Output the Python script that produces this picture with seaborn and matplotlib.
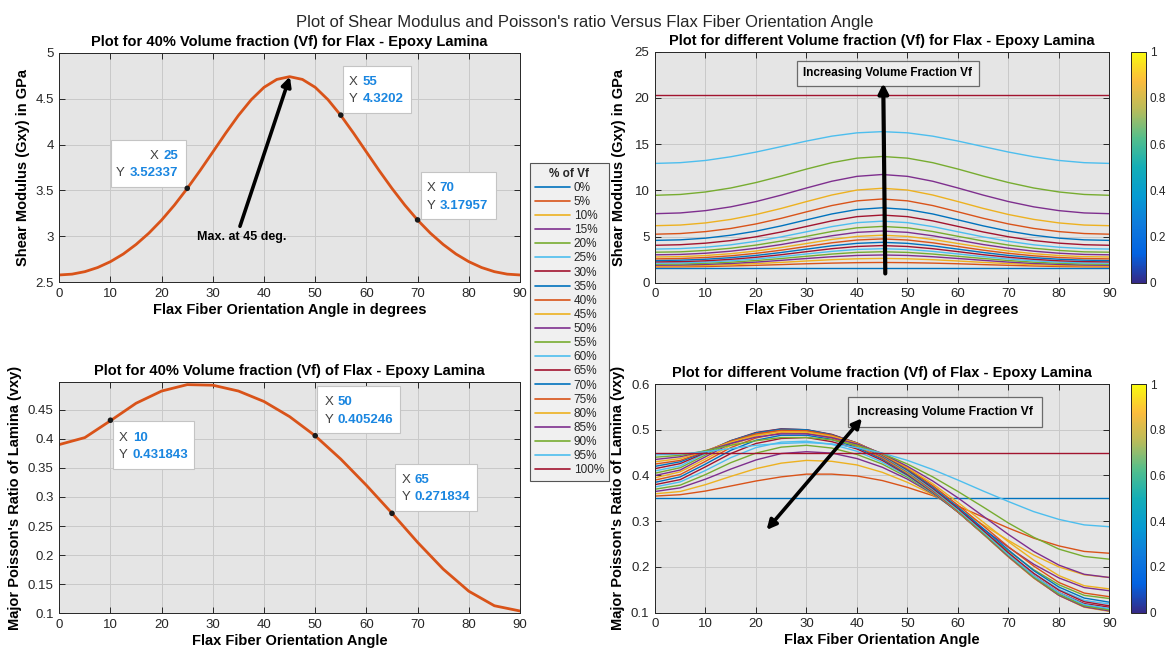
import matplotlib
matplotlib.use("Agg")
import numpy as np
import pandas as pd
import matplotlib.pyplot as plt
import seaborn as sns
from matplotlib.colors import LinearSegmentedColormap, Normalize
from matplotlib.cm import ScalarMappable
from matplotlib.lines import Line2D
from matplotlib.patches import Rectangle
from matplotlib.ticker import FormatStrFormatter, MultipleLocator

# ---------------------------------------------------------------- data
angle = [0, 5, 10, 15, 20, 25, 30, 35, 40, 45, 50, 55, 60, 65, 70, 75, 80, 85, 90]
angle_fine = [0, 2.5, 5, 7.5, 10, 12.5, 15, 17.5, 20, 22.5, 25, 27.5, 30, 32.5, 35, 37.5,
              40, 42.5, 45, 47.5, 50, 52.5, 55, 57.5, 60, 62.5, 65, 67.5, 70, 72.5, 75,
              77.5, 80, 82.5, 85, 87.5, 90]

# 40 % Vf lamina
gxy_40_fine = [2.580, 2.589, 2.616, 2.661, 2.725, 2.808, 2.912, 3.035, 3.178, 3.341, 3.522,
               3.716, 3.919, 4.123, 4.317, 4.488, 4.623, 4.709, 4.739, 4.709, 4.623, 4.488,
               4.317, 4.123, 3.919, 3.716, 3.522, 3.341, 3.178, 3.035, 2.912, 2.808, 2.725,
               2.661, 2.616, 2.589, 2.580]
nuxy_40 = [0.390, 0.402, 0.431, 0.461, 0.482, 0.493, 0.492, 0.482, 0.464, 0.438, 0.405,
           0.365, 0.320, 0.272, 0.222, 0.176, 0.138, 0.113, 0.104]

# data tips
tip_g_x = [25, 55, 70]
tip_g_y = [3.52337, 4.3202, 3.17957]
tip_nu_x = [10, 50, 65]
tip_nu_y = [0.431843, 0.405246, 0.271834]

vf_labels = ['0%', '5%', '10%', '15%', '20%', '25%', '30%', '35%', '40%', '45%', '50%',
             '55%', '60%', '65%', '70%', '75%', '80%', '85%', '90%', '95%', '100%']

# Shear modulus Gxy (GPa) for each volume fraction
gxy_vf00 = [1.63, 1.63, 1.63, 1.63, 1.63, 1.63, 1.63, 1.63, 1.63, 1.63, 1.63, 1.63, 1.63, 1.63, 1.63, 1.63, 1.63, 1.63, 1.63]
gxy_vf05 = [1.71, 1.72, 1.75, 1.81, 1.88, 1.96, 2.05, 2.12, 2.17, 2.19, 2.17, 2.12, 2.05, 1.96, 1.88, 1.81, 1.75, 1.72, 1.71]
gxy_vf10 = [1.80, 1.81, 1.86, 1.95, 2.07, 2.20, 2.35, 2.49, 2.59, 2.63, 2.59, 2.49, 2.35, 2.20, 2.07, 1.95, 1.86, 1.81, 1.80]
gxy_vf15 = [1.89, 1.91, 1.98, 2.08, 2.23, 2.42, 2.62, 2.81, 2.95, 3.00, 2.95, 2.81, 2.62, 2.42, 2.23, 2.08, 1.98, 1.91, 1.89]
gxy_vf20 = [2.00, 2.02, 2.10, 2.22, 2.40, 2.62, 2.86, 3.10, 3.28, 3.35, 3.28, 3.10, 2.86, 2.62, 2.40, 2.22, 2.10, 2.02, 2.00]
gxy_vf25 = [2.12, 2.14, 2.23, 2.37, 2.57, 2.82, 3.11, 3.39, 3.60, 3.68, 3.60, 3.39, 3.11, 2.82, 2.57, 2.37, 2.23, 2.14, 2.12]
gxy_vf30 = [2.25, 2.28, 2.37, 2.53, 2.75, 3.03, 3.36, 3.68, 3.92, 4.02, 3.92, 3.68, 3.36, 3.03, 2.75, 2.53, 2.37, 2.28, 2.25]
gxy_vf35 = [2.40, 2.44, 2.54, 2.71, 2.95, 3.27, 3.63, 3.99, 4.26, 4.37, 4.26, 3.99, 3.63, 3.27, 2.95, 2.71, 2.54, 2.44, 2.40]
gxy_vf40 = [2.58, 2.62, 2.73, 2.91, 3.18, 3.52, 3.92, 4.32, 4.62, 4.74, 4.62, 4.32, 3.92, 3.52, 3.18, 2.91, 2.73, 2.62, 2.58]
gxy_vf45 = [2.78, 2.82, 2.94, 3.14, 3.43, 3.81, 4.24, 4.68, 5.01, 5.14, 5.01, 4.68, 4.24, 3.81, 3.43, 3.14, 2.94, 2.82, 2.78]
gxy_vf50 = [3.02, 3.06, 3.19, 3.41, 3.73, 4.13, 4.61, 5.08, 5.45, 5.59, 5.45, 5.08, 4.61, 4.13, 3.73, 3.41, 3.19, 3.06, 3.02]
gxy_vf55 = [3.30, 3.34, 3.49, 3.73, 4.07, 4.51, 5.02, 5.54, 5.94, 6.09, 5.94, 5.54, 5.02, 4.51, 4.07, 3.73, 3.49, 3.34, 3.30]
gxy_vf60 = [3.64, 3.69, 3.84, 4.10, 4.48, 4.96, 5.51, 6.07, 6.50, 6.66, 6.50, 6.07, 5.51, 4.96, 4.48, 4.10, 3.84, 3.69, 3.64]
gxy_vf65 = [4.05, 4.11, 4.28, 4.56, 4.97, 5.49, 6.09, 6.69, 7.15, 7.32, 7.15, 6.69, 6.09, 5.49, 4.97, 4.56, 4.28, 4.11, 4.05]
gxy_vf70 = [4.58, 4.64, 4.82, 5.14, 5.58, 6.15, 6.80, 7.44, 7.92, 8.11, 7.92, 7.44, 6.80, 6.15, 5.58, 5.14, 4.82, 4.64, 4.58]
gxy_vf75 = [5.25, 5.32, 5.53, 5.87, 6.36, 6.97, 7.67, 8.35, 8.86, 9.06, 8.86, 8.35, 7.67, 6.97, 6.36, 5.87, 5.53, 5.32, 5.25]
gxy_vf80 = [6.17, 6.24, 6.47, 6.85, 7.38, 8.04, 8.78, 9.49, 10.03, 10.22, 10.03, 9.49, 8.78, 8.04, 7.38, 6.85, 6.47, 6.24, 6.17]
gxy_vf85 = [7.47, 7.55, 7.80, 8.21, 8.78, 9.48, 10.25, 10.98, 11.51, 11.71, 11.51, 10.98, 10.25, 9.48, 8.78, 8.21, 7.80, 7.55, 7.47]
gxy_vf90 = [9.46, 9.55, 9.82, 10.25, 10.84, 11.54, 12.30, 12.99, 13.48, 13.66, 13.48, 12.99, 12.30, 11.54, 10.84, 10.25, 9.82, 9.55, 9.46]
gxy_vf95 = [12.91, 12.99, 13.23, 13.63, 14.14, 14.73, 15.33, 15.86, 16.22, 16.35, 16.22, 15.86, 15.33, 14.73, 14.14, 13.63, 13.23, 12.99, 12.91]
gxy_vf100 = [20.3, 20.3, 20.3, 20.3, 20.3, 20.3, 20.3, 20.3, 20.3, 20.3, 20.3, 20.3, 20.3, 20.3, 20.3, 20.3, 20.3, 20.3, 20.3]

# Major Poisson's ratio vxy for each volume fraction
nu_vf00 = [0.35, 0.35, 0.35, 0.35, 0.35, 0.35, 0.35, 0.35, 0.35, 0.35, 0.35, 0.35, 0.35, 0.35, 0.35, 0.35, 0.35, 0.35, 0.35]
nu_vf05 = [0.355, 0.358, 0.366, 0.377, 0.388, 0.397, 0.403, 0.403, 0.399, 0.389, 0.374, 0.356, 0.333, 0.309, 0.285, 0.263, 0.246, 0.234, 0.230]
nu_vf10 = [0.360, 0.365, 0.380, 0.398, 0.415, 0.427, 0.433, 0.431, 0.423, 0.407, 0.385, 0.358, 0.327, 0.292, 0.258, 0.226, 0.200, 0.183, 0.177]
nu_vf15 = [0.365, 0.373, 0.392, 0.414, 0.434, 0.448, 0.452, 0.449, 0.437, 0.418, 0.392, 0.360, 0.323, 0.283, 0.243, 0.206, 0.176, 0.155, 0.148]
nu_vf20 = [0.370, 0.379, 0.402, 0.428, 0.449, 0.462, 0.466, 0.460, 0.446, 0.425, 0.396, 0.361, 0.321, 0.278, 0.235, 0.194, 0.161, 0.138, 0.131]
nu_vf25 = [0.375, 0.386, 0.411, 0.439, 0.461, 0.473, 0.475, 0.468, 0.453, 0.429, 0.399, 0.362, 0.320, 0.275, 0.229, 0.186, 0.151, 0.127, 0.119]
nu_vf30 = [0.380, 0.391, 0.419, 0.448, 0.470, 0.481, 0.483, 0.474, 0.458, 0.433, 0.401, 0.363, 0.320, 0.273, 0.225, 0.181, 0.144, 0.120, 0.112]
nu_vf35 = [0.385, 0.397, 0.425, 0.455, 0.477, 0.488, 0.488, 0.479, 0.461, 0.436, 0.403, 0.364, 0.320, 0.272, 0.223, 0.178, 0.140, 0.116, 0.107]
nu_vf40 = [0.390, 0.402, 0.431, 0.461, 0.482, 0.493, 0.492, 0.482, 0.464, 0.438, 0.405, 0.365, 0.320, 0.272, 0.222, 0.176, 0.138, 0.113, 0.104]
nu_vf45 = [0.395, 0.408, 0.436, 0.466, 0.487, 0.496, 0.495, 0.485, 0.466, 0.440, 0.406, 0.366, 0.321, 0.272, 0.222, 0.176, 0.138, 0.112, 0.103]
nu_vf50 = [0.400, 0.412, 0.441, 0.470, 0.490, 0.499, 0.498, 0.487, 0.468, 0.441, 0.408, 0.367, 0.322, 0.273, 0.223, 0.177, 0.138, 0.113, 0.104]
nu_vf55 = [0.405, 0.417, 0.445, 0.473, 0.492, 0.501, 0.499, 0.488, 0.469, 0.443, 0.409, 0.369, 0.323, 0.274, 0.225, 0.178, 0.140, 0.115, 0.106]
nu_vf60 = [0.410, 0.421, 0.448, 0.475, 0.493, 0.502, 0.500, 0.489, 0.470, 0.444, 0.410, 0.370, 0.325, 0.277, 0.227, 0.181, 0.144, 0.118, 0.109]
nu_vf65 = [0.415, 0.426, 0.450, 0.476, 0.494, 0.502, 0.500, 0.490, 0.471, 0.445, 0.412, 0.372, 0.328, 0.280, 0.231, 0.186, 0.149, 0.124, 0.115]
nu_vf70 = [0.420, 0.430, 0.452, 0.476, 0.493, 0.501, 0.500, 0.489, 0.471, 0.446, 0.413, 0.375, 0.331, 0.284, 0.237, 0.192, 0.156, 0.132, 0.123]
nu_vf75 = [0.425, 0.433, 0.453, 0.475, 0.491, 0.499, 0.498, 0.488, 0.471, 0.446, 0.415, 0.378, 0.335, 0.290, 0.244, 0.202, 0.166, 0.143, 0.135]
nu_vf80 = [0.430, 0.437, 0.454, 0.473, 0.488, 0.496, 0.495, 0.486, 0.470, 0.447, 0.417, 0.382, 0.341, 0.298, 0.255, 0.215, 0.181, 0.159, 0.152]
nu_vf85 = [0.435, 0.441, 0.454, 0.470, 0.484, 0.491, 0.491, 0.483, 0.469, 0.448, 0.420, 0.388, 0.351, 0.311, 0.271, 0.234, 0.204, 0.184, 0.177]
nu_vf90 = [0.440, 0.444, 0.454, 0.466, 0.476, 0.483, 0.483, 0.478, 0.466, 0.448, 0.425, 0.397, 0.365, 0.331, 0.296, 0.265, 0.239, 0.223, 0.217]
nu_vf95 = [0.445, 0.447, 0.452, 0.459, 0.466, 0.470, 0.472, 0.469, 0.461, 0.449, 0.433, 0.413, 0.390, 0.366, 0.343, 0.321, 0.304, 0.292, 0.288]
nu_vf100 = [0.45, 0.45, 0.45, 0.45, 0.45, 0.45, 0.45, 0.45, 0.45, 0.45, 0.45, 0.45, 0.45, 0.45, 0.45, 0.45, 0.45, 0.45, 0.45]

gxy_series = [gxy_vf00, gxy_vf05, gxy_vf10, gxy_vf15, gxy_vf20, gxy_vf25, gxy_vf30,
              gxy_vf35, gxy_vf40, gxy_vf45, gxy_vf50, gxy_vf55, gxy_vf60, gxy_vf65,
              gxy_vf70, gxy_vf75, gxy_vf80, gxy_vf85, gxy_vf90, gxy_vf95, gxy_vf100]
nu_series = [nu_vf00, nu_vf05, nu_vf10, nu_vf15, nu_vf20, nu_vf25, nu_vf30, nu_vf35,
             nu_vf40, nu_vf45, nu_vf50, nu_vf55, nu_vf60, nu_vf65, nu_vf70, nu_vf75,
             nu_vf80, nu_vf85, nu_vf90, nu_vf95, nu_vf100]

rows = []
for lab, gs, ns in zip(vf_labels, gxy_series, nu_series):
    for a, g, n in zip(angle, gs, ns):
        rows.append((lab, a, g, n))
df = pd.DataFrame(rows, columns=['Vf', 'angle', 'Gxy', 'nuxy'])

# ---------------------------------------------------------------- style
sns.set_theme(style='white')
plt.rcParams['font.family'] = ['Liberation Sans', 'DejaVu Sans']

matlab = ['#0072BD', '#D95319', '#EDB120', '#7E2F8E', '#77AC30', '#4DBEEE', '#A2142F']
palette = [matlab[i % 7] for i in range(len(vf_labels))]
ORANGE = '#D95319'
TIPBLUE = '#1a86e0'
DARK = '#262626'
AXBG = '#e5e5e5'

parula = LinearSegmentedColormap.from_list('parula', [
    (0.000, (0.2081, 0.1663, 0.5292)),
    (0.125, (0.0117, 0.3875, 0.8820)),
    (0.250, (0.0589, 0.4803, 0.8625)),
    (0.375, (0.0235, 0.6091, 0.8228)),
    (0.500, (0.0770, 0.6808, 0.7177)),
    (0.625, (0.3230, 0.7460, 0.5490)),
    (0.750, (0.7220, 0.7380, 0.3590)),
    (0.875, (0.9900, 0.7370, 0.2390)),
    (1.000, (0.9763, 0.9831, 0.0538))])

fig = plt.figure(figsize=(11.69, 6.57), dpi=100)
fig.patch.set_facecolor('white')

ax_tl = fig.add_axes([0.0507, 0.5703, 0.3941, 0.3495])
ax_tr = fig.add_axes([0.5603, 0.5697, 0.3888, 0.3516])
ax_bl = fig.add_axes([0.0507, 0.0665, 0.3941, 0.3516])
ax_br = fig.add_axes([0.5603, 0.0674, 0.3888, 0.3481])
cax_t = fig.add_axes([0.9675, 0.5697, 0.0125, 0.3516])
cax_b = fig.add_axes([0.9675, 0.0674, 0.0125, 0.3481])


def style_axes(ax):
    ax.set_facecolor(AXBG)
    ax.grid(True, color='#c9c9c9', linewidth=0.7)
    ax.set_axisbelow(True)
    for s in ax.spines.values():
        s.set_color(DARK)
        s.set_linewidth(0.7)
        s.set_visible(True)
    ax.tick_params(direction='in', length=4, width=0.7, top=True, right=True,
                   bottom=True, left=True, colors=DARK, labelsize=9.5, pad=4)
    ax.set_xlim(0, 90)
    ax.xaxis.set_major_locator(MultipleLocator(10))
    ax.yaxis.set_major_formatter(FormatStrFormatter('%g'))


def datatip(ax, box, ys, xval, yval, align, col):
    ax.add_patch(Rectangle((box[0], box[2]), box[1] - box[0], box[3] - box[2],
                           facecolor='white', edgecolor='#c4c4c4', linewidth=0.8,
                           zorder=5))
    for lab, val, y in zip(['X', 'Y'], [xval, yval], ys):
        if align == 'left':
            ax.text(col[0], y, lab, color='#404040', fontsize=9.5, ha='left',
                    va='center', zorder=6)
            ax.text(col[1], y, val, color=TIPBLUE, fontsize=9.5, fontweight='bold',
                    ha='left', va='center', zorder=6)
        else:
            t = ax.text(col[1], y, val, color=TIPBLUE, fontsize=9.5, fontweight='bold',
                        ha='right', va='center', zorder=6)
            ax.annotate(lab, xy=(0, 0.5), xycoords=t, xytext=(-3.5, 0),
                        textcoords='offset points', color='#404040', fontsize=9.5,
                        ha='right', va='center', zorder=6)


LABEL_KW = dict(fontsize=10.5, fontweight='bold', color='black')
TITLE_KW = dict(fontsize=10.5, fontweight='bold', color='black', pad=5)

# ---------------------------------------------------------------- top-left
style_axes(ax_tl)
sns.lineplot(x=angle_fine, y=gxy_40_fine, color=ORANGE, linewidth=2.0, ax=ax_tl)
sns.scatterplot(x=tip_g_x, y=tip_g_y, color='#1a1a1a', s=16, edgecolor='none',
                ax=ax_tl, zorder=7)
ax_tl.set_ylim(2.5, 5)
ax_tl.yaxis.set_major_locator(MultipleLocator(0.5))
ax_tl.set_xlabel('Flax Fiber Orientation Angle in degrees', labelpad=2, **LABEL_KW)
ax_tl.set_ylabel('Shear Modulus (Gxy) in GPa', labelpad=4, **LABEL_KW)
ax_tl.set_title('Plot for 40% Volume fraction (Vf) for Flax - Epoxy Lamina', **TITLE_KW)
datatip(ax_tl, (10.1, 24.8, 3.54, 4.05), (3.875, 3.687), '%g' % tip_g_x[0],
        '%g' % tip_g_y[0], 'right', (None, 23.2))
datatip(ax_tl, (55.5, 68.7, 4.34, 4.855), (4.684, 4.496), '%g' % tip_g_x[1],
        '%g' % tip_g_y[1], 'left', (56.6, 59.3))
datatip(ax_tl, (70.7, 85.3, 3.19, 3.70), (3.524, 3.334), '%g' % tip_g_x[2],
        '%g' % tip_g_y[2], 'left', (71.8, 74.3))
ax_tl.annotate('', xy=(45.05, 4.74), xytext=(35.3, 3.11),
               arrowprops=dict(arrowstyle='-|>', color='black', lw=2.6,
                               mutation_scale=14, shrinkA=0, shrinkB=0), zorder=8)
ax_tl.text(35.7, 2.99, 'Max. at 45 deg.', fontsize=9, fontweight='bold',
           ha='center', va='center', color='black')

# ---------------------------------------------------------------- bottom-left
style_axes(ax_bl)
sns.lineplot(x=angle, y=nuxy_40, color=ORANGE, linewidth=2.0, ax=ax_bl)
sns.scatterplot(x=tip_nu_x, y=tip_nu_y, color='#1a1a1a', s=16, edgecolor='none',
                ax=ax_bl, zorder=7)
ax_bl.set_ylim(0.1, 0.497)
ax_bl.yaxis.set_major_locator(MultipleLocator(0.05))
ax_bl.set_xlabel('Flax Fiber Orientation Angle', labelpad=2, **LABEL_KW)
ax_bl.set_ylabel("Major Poisson's Ratio of Lamina (vxy)", labelpad=4, **LABEL_KW)
ax_bl.set_title('Plot for 40% Volume fraction (Vf) of Flax - Epoxy Lamina', **TITLE_KW)
datatip(ax_bl, (10.4, 26.4, 0.3485, 0.4299), (0.4013, 0.3713), '%g' % tip_nu_x[0],
        '%g' % tip_nu_y[0], 'left', (11.7, 14.35))
datatip(ax_bl, (50.3, 66.6, 0.41, 0.4902), (0.4626, 0.4328), '%g' % tip_nu_x[1],
        '%g' % tip_nu_y[1], 'left', (51.9, 54.4))
datatip(ax_bl, (65.6, 81.7, 0.2761, 0.3566), (0.3295, 0.2997), '%g' % tip_nu_x[2],
        '%g' % tip_nu_y[2], 'left', (66.9, 69.4))

# ---------------------------------------------------------------- top-right
style_axes(ax_tr)
sns.lineplot(data=df, x='angle', y='Gxy', hue='Vf', hue_order=vf_labels,
             palette=palette, linewidth=1.0, legend=False, sort=False,
             estimator=None, ax=ax_tr)
ax_tr.set_ylim(0, 25)
ax_tr.yaxis.set_major_locator(MultipleLocator(5))
ax_tr.set_xlabel('Flax Fiber Orientation Angle in degrees', labelpad=2, **LABEL_KW)
ax_tr.set_ylabel('Shear Modulus (Gxy) in GPa', labelpad=6, **LABEL_KW)
ax_tr.set_title('Plot for different Volume fraction (Vf) for Flax - Epoxy Lamina',
                **TITLE_KW)
ax_tr.annotate('', xy=(45.2, 21.6), xytext=(45.6, 1.0),
               arrowprops=dict(arrowstyle='-|>', color='black', lw=3.0,
                               mutation_scale=14, shrinkA=0, shrinkB=0), zorder=10)
ax_tr.text(46.1, 22.65, 'Increasing Volume Fraction Vf', fontsize=8.5,
           fontweight='bold', ha='center', va='center', color='black', zorder=9,
           bbox=dict(boxstyle='square,pad=0.55', facecolor='#efefef', alpha=0.85,
                     edgecolor='#555555', linewidth=0.9))

# ---------------------------------------------------------------- bottom-right
style_axes(ax_br)
sns.lineplot(data=df, x='angle', y='nuxy', hue='Vf', hue_order=vf_labels,
             palette=palette, linewidth=1.0, legend=False, sort=False,
             estimator=None, ax=ax_br)
ax_br.set_ylim(0.1, 0.6)
ax_br.yaxis.set_major_locator(MultipleLocator(0.1))
ax_br.set_xlabel('Flax Fiber Orientation Angle', labelpad=2, **LABEL_KW)
ax_br.set_ylabel("Major Poisson's Ratio of Lamina (vxy)", labelpad=4, **LABEL_KW)
ax_br.set_title('Plot for different Volume fraction (Vf) of Flax - Epoxy Lamina',
                **TITLE_KW)
ax_br.text(57.5, 0.539, 'Increasing Volume Fraction Vf', fontsize=8.8,
           fontweight='bold', ha='center', va='center', color='black', zorder=9,
           bbox=dict(boxstyle='square,pad=0.75', facecolor='#efefef', alpha=0.85,
                     edgecolor='#555555', linewidth=0.9))
ax_br.annotate('', xy=(41.0, 0.525), xytext=(22.1, 0.281),
               arrowprops=dict(arrowstyle='<|-|>', color='black', lw=2.6,
                               mutation_scale=14, shrinkA=0, shrinkB=0), zorder=10)

# ---------------------------------------------------------------- colorbars
for cax in (cax_t, cax_b):
    cb = fig.colorbar(ScalarMappable(norm=Normalize(0, 1), cmap=parula), cax=cax,
                      ticks=[0, 0.2, 0.4, 0.6, 0.8, 1])
    cb.ax.set_yticklabels(['0', '0.2', '0.4', '0.6', '0.8', '1'])
    cb.outline.set_edgecolor(DARK)
    cb.outline.set_linewidth(0.7)
    cax.tick_params(direction='in', length=3, width=0.7, colors=DARK,
                    labelsize=8.5, pad=3)

# ---------------------------------------------------------------- legend
handles = [Line2D([0], [0], color=c, lw=1.2) for c in palette]
leg = fig.legend(handles, vf_labels, loc='upper left', bbox_to_anchor=(0.4534, 0.752),
                 title='% of Vf', fontsize=8.5, title_fontproperties={'weight': 'bold',
                                                                         'size': 8.5},
                 frameon=True, fancybox=False, edgecolor='#555555',
                 facecolor='#f0f0f0', framealpha=1.0, handlelength=3.0,
                 handletextpad=0.3, labelspacing=0.18, borderpad=0.4,
                 borderaxespad=0)
leg.get_frame().set_linewidth(0.8)

fig.suptitle("Plot of Shear Modulus and Poisson's ratio Versus Flax Fiber Orientation Angle",
             y=0.977, fontsize=12, color=DARK)

# separator line below the legend title
fig.canvas.draw()
renderer = fig.canvas.get_renderer()
fb = leg.get_frame().get_window_extent(renderer)
tb = leg.get_title().get_window_extent(renderer)
ysep = tb.y0 - 3
inv = fig.transFigure.inverted()
(x0f, yf), (x1f, _) = inv.transform([(fb.x0, ysep), (fb.x1, ysep)])
fig.add_artist(Line2D([x0f, x1f], [yf, yf], transform=fig.transFigure,
                      color='#555555', linewidth=0.8))

fig.savefig('out.png', dpi=100, facecolor='white')
